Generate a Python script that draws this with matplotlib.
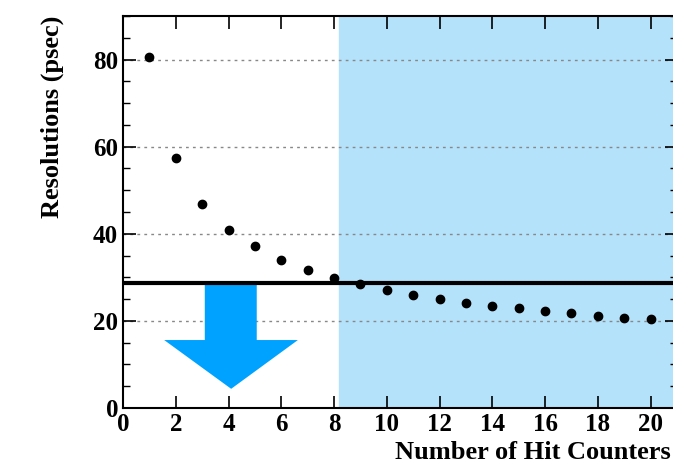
import matplotlib.pyplot as plt
from matplotlib.patches import Polygon
from matplotlib.ticker import MultipleLocator

# number of hit counters and measured resolution
n_hits = [1, 2, 3, 4, 5, 6, 7, 8, 9, 10, 11, 12, 13, 14, 15, 16, 17, 18, 19, 20]
resolution = [80.5, 57.5, 46.9, 40.9, 37.2, 34.0, 31.7, 29.9, 28.5, 27.1,
              26.0, 25.1, 24.2, 23.5, 22.9, 22.3, 21.7, 21.1, 20.7, 20.5]
threshold = 28.7
shade_start = 8.2

plt.rcParams['font.family'] = ['Liberation Serif', 'DejaVu Serif']
plt.rcParams['font.weight'] = 'bold'

fig = plt.figure(figsize=(6.73, 4.66), dpi=100)
ax = fig.add_axes([0.1828, 0.1245, 0.823, 0.8412])

ax.set_xlim(0, 21)
ax.set_ylim(0, 90)

ax.axvspan(shade_start, 21, color='#b4e2fb', zorder=0)
for yv in [20, 40, 60, 80]:
    ax.axhline(yv, color='#888888', lw=1, ls=(0, (2, 3)), zorder=1)

ax.plot(n_hits, resolution, 'o', color='black', ms=6, zorder=3)
ax.axhline(threshold, color='black', lw=3, zorder=4)

# arrow pointing down below threshold
arrow = Polygon([(3.1, threshold), (5.07, threshold), (5.07, 15.6), (6.63, 15.6),
                 (4.1, 4.4), (1.56, 15.6), (3.1, 15.6)],
                closed=True, facecolor='#00a2ff', edgecolor='none', zorder=2)
ax.add_patch(arrow)

ax.xaxis.set_major_locator(MultipleLocator(2))
ax.yaxis.set_major_locator(MultipleLocator(20))
ax.yaxis.set_minor_locator(MultipleLocator(5))
ax.tick_params(which='both', direction='in', top=True, right=True, labelsize=18)
ax.tick_params(which='major', length=9, width=1.2)
ax.tick_params(which='minor', length=5, width=1)
for s in ax.spines.values():
    s.set_linewidth(1.5)

ax.set_xlabel("Number of Hit Counters", fontsize=19, fontweight='bold', loc='right')
ax.set_ylabel("Resolutions (psec)", fontsize=19, fontweight='bold', loc='top')
ax.xaxis.set_label_coords(0.989, -0.085)
ax.yaxis.set_label_coords(-0.106, 1.0)

fig.savefig("out.png", dpi=100)
